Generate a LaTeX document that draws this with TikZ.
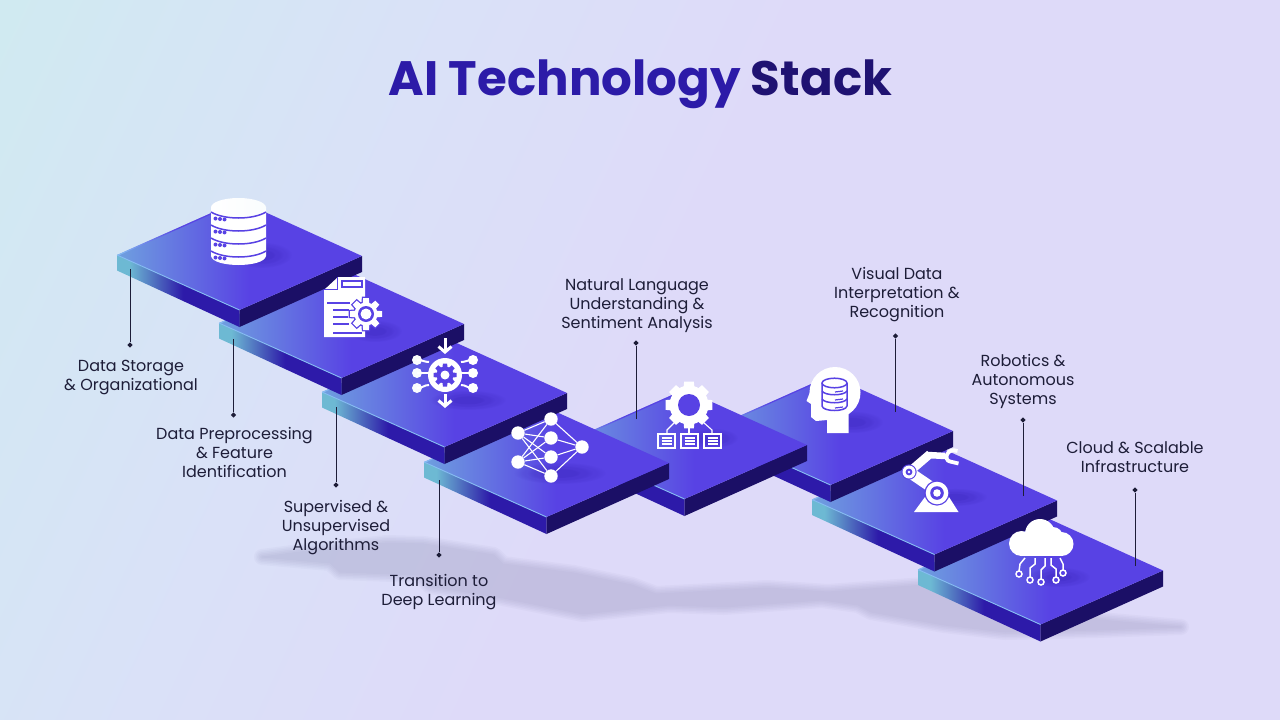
\documentclass[tikz,border=0pt]{standalone}
\usepackage{fontspec}
\setmainfont{Poppins}
\usetikzlibrary{calc,arrows.meta,fadings,shapes.geometric}

\definecolor{skyback}{HTML}{D0EAF1}
\definecolor{midback}{HTML}{DAE1F8}
\definecolor{lavback}{HTML}{DEDAF9}
\definecolor{plateblue}{HTML}{5842E4}
\definecolor{platelight}{HTML}{6FA0DF}
\definecolor{sideteal}{HTML}{6DB9D3}
\definecolor{sideblue}{HTML}{2D1AA9}
\definecolor{sidenavy}{HTML}{1B0F66}
\definecolor{edgelight}{HTML}{86BDF2}
\definecolor{inkdark}{HTML}{1D1D38}
\definecolor{titleblue}{HTML}{2C1BA8}
\definecolor{titlenavy}{HTML}{1F1272}
\definecolor{floorgrey}{HTML}{8C8AB4}

\pgfdeclarehorizontalshading{backshade}{100bp}{color(0bp)=(skyback);color(17bp)=(skyback);color(36bp)=(midback);color(50bp)=(lavback);color(100bp)=(lavback)}
\pgfdeclarehorizontalshading{topface}{100bp}{color(0bp)=(platelight);color(25bp)=(platelight);color(52bp)=(plateblue);color(100bp)=(plateblue)}
\pgfdeclarehorizontalshading{leftface}{100bp}{color(0bp)=(sideteal);color(30bp)=(sideteal);color(52bp)=(sideblue);color(100bp)=(sideblue)}
\pgfdeclarehorizontalshading{backedge}{100bp}{color(0bp)=(edgelight);color(25bp)=(edgelight);color(50bp)=(plateblue);color(100bp)=(plateblue)}

\newcommand{\plate}[3]{%
  \coordinate (#1l) at (#2,#3);
  \coordinate (#1t) at (#2+122.5,#3-54.5);
  \coordinate (#1r) at (#2+245,#3+1);
  \coordinate (#1f) at (#2+122.5,#3+55);
  \shade[shading=leftface] (#1l) -- (#1f) -- ($(#1f)+(0,17)$) -- ($(#1l)+(0,15.5)$) -- cycle;
  \fill[sidenavy] (#1f) -- (#1r) -- ($(#1r)+(0,16)$) -- ($(#1f)+(0,17)$) -- cycle;
  \shade[shading=topface] (#1l) -- (#1t) -- (#1r) -- (#1f) -- cycle;
  \shade[shading=backedge] (#1l) -- (#1t) -- ($(#1t)+(0,1.2)$) -- ($(#1l)+(0,1.2)$) -- cycle;
  \draw[edgelight,line width=.9pt] (#1l) -- (#1f);
}
\newcommand{\gearshape}[5][fill=white]{%
  \path[#1] (#2,#3) circle (#4);
  \foreach \ang in {0,45,...,315}
    \path[#1,rotate around={\ang:(#2,#3)}] (#2-#4*.36,#3) -- (#2-#4*.25,#3-#4-#5) -- (#2+#4*.25,#3-#4-#5) -- (#2+#4*.36,#3) -- cycle;
}
\newcommand{\softspot}[4]{%
  \foreach \k in {1,.72,.45}
    \fill[sideblue,opacity=.13,path fading=circle with fuzzy edge 20 percent] (#1,#2) ellipse [x radius=#3*\k,y radius=#4*\k];
}

\begin{document}
\begin{tikzpicture}[x=1pt,y=-1pt,
    leader/.style={inkdark,line width=1pt},
    leaddot/.style={diamond,aspect=1,fill=inkdark,inner sep=0pt,minimum size=5.5pt},
    caption/.style={inkdark,align=center,font=\fontsize{16}{19}\selectfont},
    netdot/.style={circle,fill=white,inner sep=0pt,minimum size=13.4pt},
    netline/.style={white,line width=1.1pt},
    cutline/.style={plateblue,line width=1.5pt},
    iconline/.style={white,line width=1.5pt},
    iconarrow/.style={white,line width=3pt,-{Straight Barb[length=5.5pt,width=13pt]}}]
\useasboundingbox (0,0) rectangle (1280,720);
\shade[shading=backshade,shading angle=-25] (0,0) rectangle (1280,720);

\foreach \w in {1,4,7,10,13,16}{
  \begin{scope}[transparency group,opacity=.058]
    \filldraw[floorgrey,line width=\w pt,line join=round]
      (262,557) -- (300,552) -- (387,543) -- (424,544) -- (494,555) -- (503,564) -- (574,573) -- (632,585)
      -- (656,594) -- (767,588) -- (828,592) -- (925,585) -- (1060,605) -- (1100,620) -- (1181,627)
      -- (1097,630) -- (1005,632) -- (944,625) -- (871,612) -- (858,605) -- (822,600) -- (724,607)
      -- (669,605) -- (583,614) -- (503,598) -- (430,586) -- (420,575) -- (340,572) -- (330,563) -- cycle;
  \end{scope}
}

\plate{pH}{918}{569.5}
\plate{pG}{812}{499.5}
\plate{pF}{708}{430}
\plate{pE}{562}{444}
\plate{pD}{424}{462}
\plate{pC}{322}{392}
\plate{pB}{219}{323}
\plate{pA}{117}{255}

\softspot{262}{255}{30}{13}
\softspot{375}{331}{27}{11}
\softspot{468}{400}{38}{10}
\softspot{560}{473}{46}{11}
\softspot{712}{438}{26}{10}
\softspot{853}{422}{30}{11}
\softspot{955}{497}{32}{9}
\softspot{1058}{577}{32}{10}

\foreach \name/\px/\ptop/\pdot in {la/130/269/345,lb/233.5/339/415,lc/336/407/485,ld/439/480/555,le/636/419/343,lf/895.5/412/336,lg/1023/496/420,lh/1135/566/490}{
  \coordinate (\name top) at (\px,\ptop);
  \node[leaddot] (\name dot) at (\px,\pdot) {};
  \draw[leader] (\name top) -- (\name dot);
}

\node[caption] (capa) at (131,378) {Data Storage\\\& Organizational};
\node[caption] (capb) at (234.5,452.5) {Data Preprocessing\\\& Feature\\Identification};
\node[caption] (capc) at (336,527.5) {Supervised \&\\Unsupervised\\Algorithms};
\node[caption] (capd) at (439,592.5) {Transition to\\Deep Learning};
\node[caption] (cape) at (637,305.5) {Natural Language\\Understanding \&\\Sentiment Analysis};
\node[caption] (capf) at (897,295) {Visual Data\\Interpretation \&\\Recognition};
\node[caption] (capg) at (1023,381) {Robotics \&\\Autonomous\\Systems};
\node[caption] (caph) at (1135,457) {Cloud \& Scalable\\Infrastructure};

\node (title) at (640.5,84) {\fontsize{48.3}{56}\selectfont\bfseries\textcolor{titleblue}{AI Technology} \textcolor{titlenavy}{Stack}};

\fill[white] (211,207) -- (211,256) .. controls (213,268) and (264,268) .. (266,256) -- (266,207) -- cycle;
\shade[left color=white,right color=white!88!skyback] (238.5,207.5) ellipse (27.5 and 9.5);
\foreach \y in {212,225,238,251}{
  \draw[cutline] (211,\y) .. controls (224,\y+8) and (253,\y+8) .. (266,\y);
}
\foreach \y in {219,232,245,258}{
  \foreach \x in {215.5,220,224.5}
    \fill[plateblue] (\x,\y+\x/10-22) circle (2);
}

\fill[white] (338,277) -- (365,277) -- (365,337) -- (324,337) -- (324,290) -- cycle;
\draw[cutline,line width=1pt] (324,289) -- (337,289) -- (337,277);
\draw[cutline,line width=1.2pt] (342,281) rectangle (362,287);
\foreach \y/\xa/\xb in {303/327/350,310/333/349,317/333/348,324/333/349,333/333/362}{
  \draw[cutline,line width=1.2pt] (\xa,\y) -- (\xb,\y);
}
\gearshape[fill=plateblue,draw=plateblue,line width=2.6pt]{366}{314}{11.5}{4.5}
\gearshape{366}{314}{11.5}{4.5}
\fill[plateblue] (366,314) circle (8);
\fill[white] (366,314) circle (5.5);

\fill[white] (445,375) circle (17);
\gearshape[fill=plateblue]{445}{375}{8.5}{3}
\fill[white] (445,375) circle (4.5);
\draw[iconarrow] (445,338) -- (445,354);
\draw[iconarrow] (445,394) -- (445,408);
\foreach \y/\cy in {360/362,373/373,388/385}{
  \fill[white!88!skyback] (417,\y) circle (5);
  \fill[white] (473,\y) circle (5);
  \draw[iconline,line width=2pt] (417,\y) .. controls (423,\y) and (424,\cy) .. (429,\cy);
  \draw[iconline,line width=2pt] (473,\y) .. controls (467,\y) and (466,\cy) .. (461,\cy);
}

\foreach \name/\px/\py in {n1/518/433,n2/518/462,n3/551/419,n4/551/438,n5/551/457,n6/551/476,n7/582/447}{
  \node[netdot] (\name) at (\px,\py) {};
}
\foreach \from/\to in {n1/n3,n1/n4,n1/n5,n1/n6,n2/n3,n2/n4,n2/n5,n2/n6,n3/n7,n4/n7,n5/n7,n6/n7}
  \draw[netline] (\from) -- (\to);

\gearshape{689}{405}{19.5}{3.8}
\fill[plateblue] (689,405) circle (11);
\draw[iconline,line width=1.1pt] (675,422) -- (667,430) -- (667,434);
\draw[iconline,line width=1.1pt] (689,425) -- (689,434);
\draw[iconline,line width=1.1pt] (703,422) -- (712,430) -- (712,434);
\foreach \x in {658,681,704}{
  \draw[iconline,line width=1.1pt] (\x,434) rectangle (\x+17,448);
  \foreach \y in {438,441,444}
    \draw[iconline,line width=1.6pt] (\x+3.5,\y) -- (\x+13.5,\y);
}

\fill[white] (835,392.5) circle (25.5);
\fill[white] (813,381) -- (810,392) -- (806.5,401) -- (811,404) -- (811,417) -- (816,421) -- (827,420) -- (827,433) -- (848.5,433) -- (848.5,410) -- (830,395) -- cycle;
\draw[cutline] (822,383) -- (822,406) .. controls (823,412) and (846,412) .. (847,406) -- (847,383);
\draw[cutline] (834.5,383) ellipse (12.5 and 4.8);
\foreach \y in {391,399}{
  \draw[cutline] (822,\y) .. controls (825,\y+5) and (844,\y+5) .. (847,\y);
}
\foreach \y in {392,400,408}{
  \draw[cutline,line width=1.2pt] (835,\y) -- (843,\y-1);
}

\fill[white] (914,512) -- (925,497) -- (949,497) -- (958.5,512) -- cycle;
\draw[white,line width=11pt] (937,491) -- (909,472);
\draw[white,line width=8.5pt] (909,472) -- (930,454);
\draw[white,line width=6.5pt] (928,455) -- (945,456);
\draw[white,line width=3.8pt] (957.5,451) .. controls (947,447) and (943,460) .. (950,461.5) -- (958.5,463.5);
\fill[plateblue] (937,493) circle (12.6);
\fill[white] (937,493) circle (11.3);
\fill[plateblue] (937,493) circle (6.8);
\fill[white] (937,493) circle (3.8);
\fill[plateblue] (909,472) circle (7.6);
\fill[white] (909,472) circle (6.5);
\fill[plateblue] (909,472) circle (3.4);
\fill[white] (909,472) circle (1.3);

\fill[white] (1040,534) circle (15);
\fill[white] (1021.5,543.5) circle (12.5);
\fill[white] (1061.5,544) circle (12);
\fill[white] (1053,537) circle (10);
\fill[white] (1021,540) rectangle (1062,556);
\draw[iconline] (1025,558) -- (1020,564) -- (1019,571);
\draw[iconline] (1035,558) -- (1035,564) -- (1030,568) -- (1030,577);
\draw[iconline] (1045,558) -- (1045,566) -- (1041,570) -- (1041,579);
\draw[iconline] (1051,558) -- (1051,565) -- (1056,569) -- (1056,577);
\draw[iconline] (1060,558) -- (1063,564) -- (1063,570);
\foreach \x/\y in {1019/574,1030/580,1041/582,1056/580,1063/573}{
  \draw[iconline,fill=plateblue] (\x,\y) circle (3);
}
\end{tikzpicture}
\end{document}
